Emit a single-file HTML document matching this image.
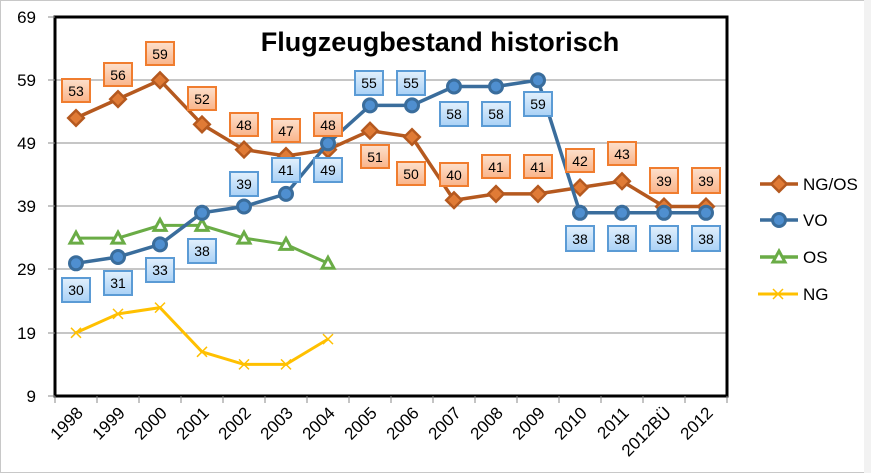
<!DOCTYPE html>
<html><head><meta charset="utf-8"><style>
html,body{margin:0;padding:0;background:#fff;}
svg{display:block;font-family:"Liberation Sans",Calibri,sans-serif;}
.lo rect{fill:url(#og);stroke:#f07d2f;stroke-width:2}
.lb rect{fill:url(#bg);stroke:#5b9bd5;stroke-width:2}
.lab text{font-size:14px;text-anchor:middle;fill:#000}
.yl{font-size:17px;text-anchor:end}
.xl{font-size:17px;text-anchor:end}
</style></head><body>
<svg width="871" height="473" viewBox="0 0 871 473">
<defs>
<linearGradient id="og" x1="0" y1="0" x2="0" y2="1"><stop offset="0" stop-color="#fde0cc"/><stop offset="1" stop-color="#f9b48a"/></linearGradient>
<linearGradient id="bg" x1="0" y1="0" x2="0" y2="1"><stop offset="0" stop-color="#e2f0fc"/><stop offset="1" stop-color="#a9d1f6"/></linearGradient>
<g id="dia"><rect x="-5.5" y="-5.5" width="11" height="11" transform="rotate(45)" fill="#e07b36" stroke="#b5591f" stroke-width="2.5"/></g>
<g id="cir"><circle r="6.5" fill="#4f8fd0" stroke="#3a6d9c" stroke-width="3"/></g>
<g id="tri"><path d="M0,-6 L6,5 L-6,5 Z" fill="#fff" stroke="#6aac46" stroke-width="3"/></g>
<g id="crs"><path d="M-5,-5 L5,5 M-5,5 L5,-5" stroke="#ffc000" stroke-width="1.5"/></g>
</defs>
<rect x="0.5" y="0.5" width="868" height="472" fill="#fff" stroke="#c8c8c8"/>
<rect x="864" y="0" width="7" height="473" fill="#f2f2f2"/>
<g stroke="#8c8c8c" stroke-width="1">
<line x1="55" y1="80" x2="727" y2="80"/><line x1="55" y1="143" x2="727" y2="143"/>
<line x1="55" y1="206" x2="727" y2="206"/><line x1="55" y1="269" x2="727" y2="269"/>
<line x1="55" y1="333" x2="727" y2="333"/>
</g>
<rect x="55" y="17" width="672" height="379" fill="none" stroke="#000" stroke-width="3"/>
<g stroke="#888" stroke-width="1">
<line x1="48" y1="17" x2="55" y2="17"/><line x1="48" y1="80" x2="55" y2="80"/><line x1="48" y1="143" x2="55" y2="143"/><line x1="48" y1="206" x2="55" y2="206"/><line x1="48" y1="269" x2="55" y2="269"/><line x1="48" y1="333" x2="55" y2="333"/><line x1="48" y1="396" x2="55" y2="396"/>
<line x1="55" y1="396" x2="55" y2="403"/><line x1="97" y1="396" x2="97" y2="403"/><line x1="139" y1="396" x2="139" y2="403"/><line x1="181" y1="396" x2="181" y2="403"/><line x1="223" y1="396" x2="223" y2="403"/><line x1="265" y1="396" x2="265" y2="403"/><line x1="307" y1="396" x2="307" y2="403"/><line x1="349" y1="396" x2="349" y2="403"/><line x1="391" y1="396" x2="391" y2="403"/><line x1="433" y1="396" x2="433" y2="403"/><line x1="475" y1="396" x2="475" y2="403"/><line x1="517" y1="396" x2="517" y2="403"/><line x1="559" y1="396" x2="559" y2="403"/><line x1="601" y1="396" x2="601" y2="403"/><line x1="643" y1="396" x2="643" y2="403"/><line x1="685" y1="396" x2="685" y2="403"/><line x1="727" y1="396" x2="727" y2="403"/>
</g>
<g class="yl">
<text x="36" y="23">69</text><text x="36" y="86">59</text><text x="36" y="149">49</text><text x="36" y="212">39</text><text x="36" y="275">29</text><text x="36" y="339">19</text><text x="36" y="402">9</text>
</g>
<g class="xl">
<text transform="translate(84,414) rotate(-45)">1998</text>
<text transform="translate(126,414) rotate(-45)">1999</text>
<text transform="translate(168,414) rotate(-45)">2000</text>
<text transform="translate(210,414) rotate(-45)">2001</text>
<text transform="translate(252,414) rotate(-45)">2002</text>
<text transform="translate(294,414) rotate(-45)">2003</text>
<text transform="translate(336,414) rotate(-45)">2004</text>
<text transform="translate(378,414) rotate(-45)">2005</text>
<text transform="translate(420,414) rotate(-45)">2006</text>
<text transform="translate(462,414) rotate(-45)">2007</text>
<text transform="translate(504,414) rotate(-45)">2008</text>
<text transform="translate(546,414) rotate(-45)">2009</text>
<text transform="translate(588,414) rotate(-45)">2010</text>
<text transform="translate(630,414) rotate(-45)">2011</text>
<text transform="translate(672,414) rotate(-45)">2012BÜ</text>
<text transform="translate(714,414) rotate(-45)">2012</text>
</g>
<text x="440" y="51" text-anchor="middle" font-size="27" font-weight="bold">Flugzeugbestand historisch</text>
<polyline fill="none" stroke="#ffc000" stroke-width="3" points="76,332.8 118,313.9 160,307.6 202,351.8 244,364.4 286,364.4 328,339.1"/>
<use href="#crs" x="76" y="332.8"/><use href="#crs" x="118" y="313.9"/><use href="#crs" x="160" y="307.6"/><use href="#crs" x="202" y="351.8"/><use href="#crs" x="244" y="364.4"/><use href="#crs" x="286" y="364.4"/><use href="#crs" x="328" y="339.1"/>
<polyline fill="none" stroke="#6aac46" stroke-width="3" points="76,238.1 118,238.1 160,225.4 202,225.4 244,238.1 286,244.4 328,263.3"/>
<use href="#tri" x="76" y="238.1"/><use href="#tri" x="118" y="238.1"/><use href="#tri" x="160" y="225.4"/><use href="#tri" x="202" y="225.4"/><use href="#tri" x="244" y="238.1"/><use href="#tri" x="286" y="244.4"/><use href="#tri" x="328" y="263.3"/>
<polyline fill="none" stroke="#b5591f" stroke-width="3.5" points="76,118 118,99.1 160,80.2 202,124.4 244,149.6 286,156 328,149.6 370,130.7 412,137 454,200.2 496,193.9 538,193.9 580,187.5 622,181.2 664,206.5 706,206.5"/>
<g>
<use href="#dia" x="76" y="118"/><use href="#dia" x="118" y="99.1"/><use href="#dia" x="160" y="80.2"/><use href="#dia" x="202" y="124.4"/><use href="#dia" x="244" y="149.6"/><use href="#dia" x="286" y="156"/><use href="#dia" x="328" y="149.6"/><use href="#dia" x="370" y="130.7"/><use href="#dia" x="412" y="137"/><use href="#dia" x="454" y="200.2"/><use href="#dia" x="496" y="193.9"/><use href="#dia" x="538" y="193.9"/><use href="#dia" x="580" y="187.5"/><use href="#dia" x="622" y="181.2"/><use href="#dia" x="664" y="206.5"/><use href="#dia" x="706" y="206.5"/>
</g>
<polyline fill="none" stroke="#3a6d9c" stroke-width="3.5" points="76,263.3 118,257 160,244.4 202,212.8 244,206.5 286,193.9 328,143.3 370,105.4 412,105.4 454,86.5 496,86.5 538,80.2 580,212.8 622,212.8 664,212.8 706,212.8"/>
<g>
<use href="#cir" x="76" y="263.3"/><use href="#cir" x="118" y="257"/><use href="#cir" x="160" y="244.4"/><use href="#cir" x="202" y="212.8"/><use href="#cir" x="244" y="206.5"/><use href="#cir" x="286" y="193.9"/><use href="#cir" x="328" y="143.3"/><use href="#cir" x="370" y="105.4"/><use href="#cir" x="412" y="105.4"/><use href="#cir" x="454" y="86.5"/><use href="#cir" x="496" y="86.5"/><use href="#cir" x="538" y="80.2"/><use href="#cir" x="580" y="212.8"/><use href="#cir" x="622" y="212.8"/><use href="#cir" x="664" y="212.8"/><use href="#cir" x="706" y="212.8"/>
</g>
<g class="lab lo">
<rect x="62" y="79" width="28" height="23"/><text x="76" y="96">53</text>
<rect x="104" y="63" width="28" height="23"/><text x="118" y="80">56</text>
<rect x="146" y="42" width="28" height="23"/><text x="160" y="59">59</text>
<rect x="188" y="87" width="28" height="23"/><text x="202" y="104">52</text>
<rect x="230" y="113" width="28" height="23"/><text x="244" y="130">48</text>
<rect x="272" y="119" width="28" height="23"/><text x="286" y="136">47</text>
<rect x="314" y="113" width="28" height="23"/><text x="328" y="130">48</text>
<rect x="361" y="145" width="28" height="23"/><text x="375" y="162">51</text>
<rect x="397" y="162" width="28" height="23"/><text x="411" y="179">50</text>
<rect x="440" y="163" width="28" height="23"/><text x="454" y="180">40</text>
<rect x="482" y="155" width="28" height="23"/><text x="496" y="172">41</text>
<rect x="524" y="155" width="28" height="23"/><text x="538" y="172">41</text>
<rect x="566" y="149" width="28" height="23"/><text x="580" y="166">42</text>
<rect x="608" y="142" width="28" height="23"/><text x="622" y="159">43</text>
<rect x="650" y="168" width="28" height="25"/><text x="664" y="186">39</text>
<rect x="692" y="168" width="28" height="25"/><text x="706" y="186">39</text>
</g>
<g class="lab lb">
<rect x="62" y="278" width="28" height="24"/><text x="76" y="295">30</text>
<rect x="104" y="271" width="28" height="24"/><text x="118" y="288">31</text>
<rect x="146" y="258" width="28" height="24"/><text x="160" y="275">33</text>
<rect x="188" y="239" width="28" height="24"/><text x="202" y="256">38</text>
<rect x="230" y="172" width="28" height="24"/><text x="244" y="189">39</text>
<rect x="272" y="158" width="28" height="24"/><text x="286" y="175">41</text>
<rect x="314" y="158" width="28" height="24"/><text x="328" y="175">49</text>
<rect x="355" y="71" width="28" height="24"/><text x="369" y="88">55</text>
<rect x="397" y="71" width="28" height="24"/><text x="411" y="88">55</text>
<rect x="440" y="102" width="28" height="24"/><text x="454" y="119">58</text>
<rect x="482" y="102" width="28" height="24"/><text x="496" y="119">58</text>
<rect x="524" y="92" width="28" height="24"/><text x="538" y="109">59</text>
<rect x="566" y="226" width="28" height="25"/><text x="580" y="244">38</text>
<rect x="608" y="226" width="28" height="25"/><text x="622" y="244">38</text>
<rect x="650" y="226" width="28" height="25"/><text x="664" y="244">38</text>
<rect x="692" y="226" width="28" height="25"/><text x="706" y="244">38</text>
</g>
<g font-size="17">
<line x1="760" y1="184" x2="798" y2="184" stroke="#b5591f" stroke-width="3.5"/><use href="#dia" x="779" y="184"/><text x="803" y="190">NG/OS</text>
<line x1="760" y1="220" x2="798" y2="220" stroke="#3a6d9c" stroke-width="3.5"/><use href="#cir" x="779" y="220"/><text x="803" y="226">VO</text>
<line x1="760" y1="257" x2="798" y2="257" stroke="#6aac46" stroke-width="3.5"/><use href="#tri" x="779" y="257"/><text x="803" y="263">OS</text>
<line x1="758" y1="294" x2="798" y2="294" stroke="#ffc000" stroke-width="3"/><use href="#crs" x="778" y="294"/><text x="803" y="300">NG</text>
</g>
</svg>
</body></html>
